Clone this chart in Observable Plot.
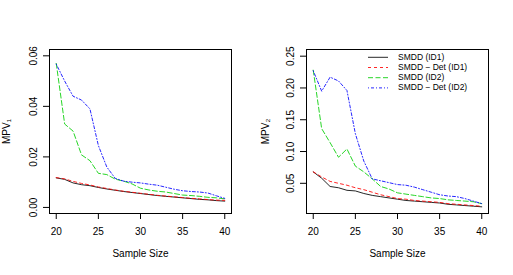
<!DOCTYPE html>
<html>
<head>
<meta charset="utf-8">
<script src="https://cdn.jsdelivr.net/npm/d3@7"></script>
<script src="https://cdn.jsdelivr.net/npm/@observablehq/plot@0.6"></script>
<style>
  html, body { margin: 0; padding: 0; background: white; }
  #wrap { position: relative; width: 513px; height: 275px; overflow: hidden; background: white; }
  #wrap > div, #wrap > svg { position: absolute; top: 0; }
</style>
</head>
<body>
<div id="wrap"></div>
<script>
// ---- data ----
const sampleSize = [20,21,22,23,24,25,26,27,28,29,30,31,32,33,34,35,36,37,38,39,40];
const xTicks = [20, 25, 30, 35, 40];
const seriesNames = ["SMDD (ID1)", "SMDD \u2212 Det (ID1)", "SMDD (ID2)", "SMDD \u2212 Det (ID2)"];
const seriesColors = ["#000000", "#FF0000", "#00CD00", "#0000FF"];
const seriesDash = [null, "3,3", "5,2.5", "1,2,3,2"];

// MPV1 (left panel)
const mpv1_smdd_id1    = [0.0117,0.0111,0.0097,0.0090,0.0086,0.0079,0.0073,0.0068,0.0063,0.0059,0.0055,0.0051,0.0047,0.0044,0.0041,0.0038,0.0035,0.0032,0.0030,0.0027,0.0025];
const mpv1_smdddet_id1 = [0.0118,0.0113,0.0103,0.0095,0.0089,0.0081,0.0075,0.0069,0.0064,0.0060,0.0056,0.0052,0.0048,0.0045,0.0042,0.0039,0.0036,0.0034,0.0031,0.0029,0.0028];
const mpv1_smdd_id2    = [0.0570,0.0330,0.0302,0.0208,0.0185,0.0135,0.0130,0.0112,0.0104,0.0093,0.0076,0.0069,0.0064,0.0061,0.0055,0.0049,0.0047,0.0044,0.0040,0.0038,0.0034];
const mpv1_smdddet_id2 = [0.0567,0.0500,0.0440,0.0425,0.0390,0.0245,0.0160,0.0115,0.0104,0.0100,0.0097,0.0092,0.0088,0.0080,0.0072,0.0066,0.0063,0.0061,0.0057,0.0046,0.0036];
const mpv1Ticks = [0.00, 0.02, 0.04, 0.06];

// MPV2 (right panel)
const mpv2_smdd_id1    = [0.068,0.058,0.045,0.043,0.039,0.038,0.034,0.031,0.029,0.027,0.025,0.023,0.022,0.021,0.020,0.019,0.017,0.016,0.015,0.014,0.013];
const mpv2_smdddet_id1 = [0.068,0.060,0.053,0.050,0.047,0.043,0.040,0.036,0.032,0.029,0.026,0.025,0.023,0.022,0.021,0.020,0.018,0.017,0.016,0.015,0.014];
const mpv2_smdd_id2    = [0.228,0.136,0.114,0.091,0.104,0.077,0.068,0.057,0.045,0.041,0.035,0.033,0.031,0.029,0.027,0.026,0.024,0.023,0.022,0.021,0.018];
const mpv2_smdddet_id2 = [0.227,0.195,0.217,0.211,0.196,0.128,0.085,0.057,0.054,0.051,0.048,0.047,0.044,0.040,0.036,0.032,0.030,0.029,0.026,0.022,0.018];
const mpv2Ticks = [0.05, 0.10, 0.15, 0.20, 0.25];

const FONT = "'Liberation Sans', Arial, Helvetica, sans-serif";
const LINE_W = 0.85;

function panel({series, yTicks, yDomain, yLabel, width, marginLeft, labelDx}) {
  const lines = series.map((vals, i) => {
    const rows = sampleSize.map((n, j) => ({n, v: vals[j]}));
    const opts = {x: "n", y: "v", stroke: seriesColors[i], strokeWidth: LINE_W};
    if (seriesDash[i]) opts.strokeDasharray = seriesDash[i];
    return Plot.line(rows, opts);
  });
  return Plot.plot({
    width, height: 275,
    marginLeft, marginRight: 25, marginTop: 49, marginBottom: 62,
    style: {fontFamily: FONT, fontSize: "10px", background: "white", color: "black", overflow: "visible"},
    x: {domain: [19.2, 40.8]},
    y: {domain: yDomain},
    marks: [
      ...lines,
      Plot.frame({stroke: "black"}),
      Plot.axisX({ticks: xTicks, tickSize: 6, tickPadding: 8, label: null, fontSize: 10}),
      Plot.axisY({ticks: yTicks, tickSize: 6, tickFormat: () => "", label: null}),
      Plot.text(yTicks, {y: d => d, text: d => d.toFixed(2), frameAnchor: "left", dx: -16, rotate: -90, textAnchor: "middle", fontSize: 10}),
      Plot.text(["Sample Size"], {frameAnchor: "bottom", dy: 43, fontSize: 10}),
      Plot.text([yLabel], {frameAnchor: "left", dx: labelDx, rotate: -90, textAnchor: "middle", fontSize: 10})
    ]
  });
}

const wrap = document.getElementById("wrap");

const left = panel({
  series: [mpv1_smdd_id1, mpv1_smdddet_id1, mpv1_smdd_id2, mpv1_smdddet_id2],
  yTicks: mpv1Ticks, yDomain: [-0.0024, 0.0625], yLabel: "MPV\u2081",
  width: 256, marginLeft: 49, labelDx: -43
});
left.style.left = "0px";
wrap.appendChild(left);

const right = panel({
  series: [mpv2_smdd_id1, mpv2_smdddet_id1, mpv2_smdd_id2, mpv2_smdddet_id2],
  yTicks: mpv2Ticks, yDomain: [0.0025, 0.2605], yLabel: "MPV\u2082",
  width: 257, marginLeft: 50, labelDx: -41
});
right.style.left = "256px";
wrap.appendChild(right);

// legend (right panel, no border)
const leg = d3.create("svg")
  .attr("width", 513).attr("height", 275)
  .style("left", "0px").style("pointer-events", "none")
  .style("font-family", FONT);
const rowY = [56.8, 67.0, 77.2, 87.4];
seriesNames.forEach((name, i) => {
  const g = leg.append("g");
  const ln = g.append("line")
    .attr("x1", 368).attr("x2", 388)
    .attr("y1", rowY[i] + 0.5).attr("y2", rowY[i] + 0.5)
    .attr("stroke", seriesColors[i]).attr("stroke-width", LINE_W);
  if (seriesDash[i]) ln.attr("stroke-dasharray", seriesDash[i]);
  g.append("text")
    .attr("x", 398).attr("y", rowY[i])
    .attr("dy", "0.35em")
    .attr("font-size", 8.5)
    .text(name);
});
wrap.appendChild(leg.node());
</script>
</body>
</html>
